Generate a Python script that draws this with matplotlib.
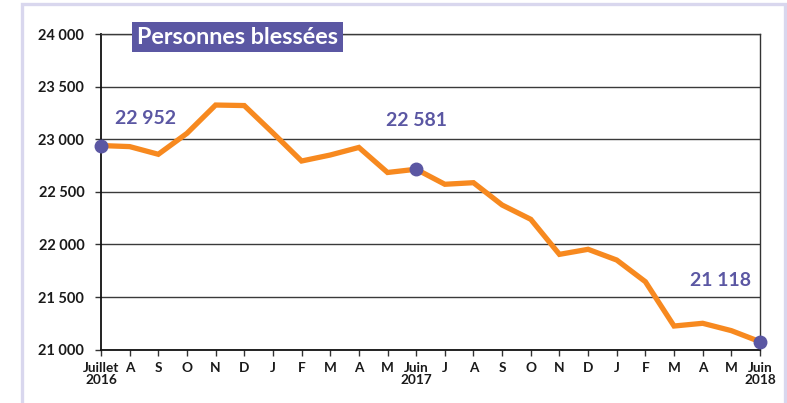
import matplotlib
matplotlib.use("Agg")
import matplotlib.pyplot as plt
from matplotlib.patches import Rectangle

months = ["Juillet\n2016", "A", "S", "O", "N", "D", "J", "F", "M", "A", "M", "Juin\n2017",
          "J", "A", "S", "O", "N", "D", "J", "F", "M", "A", "M", "Juin\n2018"]
values = [22940, 22930, 22857, 23056, 23325, 23320, 23060, 22793, 22850, 22922, 22684, 22715,
          22572, 22587, 22375, 22239, 21906, 21954, 21852, 21646, 21225, 21251, 21181, 21076]
highlight_idx = [0, 11, 23]
highlight_labels = ["22 952", "22 581", "21 118"]
yticks = [21000, 21500, 22000, 22500, 23000, 23500, 24000]
ytick_labels = ["21 000", "21 500", "22 000", "22 500", "23 000", "23 500", "24 000"]

plt.rcParams['font.family'] = ['Lato', 'DejaVu Sans']
ORANGE = "#f7891f"
PURPLE = "#5b57a3"

fig = plt.figure(figsize=(7.87, 4.03), dpi=100)
fig.patch.set_facecolor("white")
ax = fig.add_axes([101/787, 1-349.7/403, (760-101)/787, (349.7-34)/403])

x = list(range(len(values)))
ax.plot(x, values, color=ORANGE, lw=3.8, solid_joinstyle="miter", zorder=3, clip_on=False)
ax.plot([x[i] for i in highlight_idx], [values[i] for i in highlight_idx], "o",
        color=PURPLE, ms=9, zorder=4, clip_on=False)

ax.set_xlim(0, 23)
ax.set_ylim(21000, 24000)
ax.set_yticks(yticks)
ax.set_yticklabels(ytick_labels, fontsize=10.5, fontweight="bold", color="#1a1a1a")
ax.set_xticks(x)
ax.set_xticklabels(months, fontsize=9.8, fontweight="bold", color="#1a1a1a", linespacing=1.0)
ax.tick_params(axis="y", length=4, width=1, pad=8, color="#333333")
ax.tick_params(axis="x", length=4, width=1, pad=5, color="#333333")
ax.grid(axis="y", color="#3a3a3a", lw=1)
for s in ["left", "bottom"]:
    ax.spines[s].set_color("#111111")
    ax.spines[s].set_linewidth(1.3)
ax.spines["right"].set_color("#333333")
ax.spines["right"].set_linewidth(1)
ax.spines["top"].set_color("#3a3a3a")
ax.spines["top"].set_linewidth(1)

# Highlight labels
ax.text(0.5, 23200, highlight_labels[0], color=PURPLE, fontsize=14, fontweight="bold",
        ha="left", va="center")
ax.text(11, 23180, highlight_labels[1], color=PURPLE, fontsize=14, fontweight="bold",
        ha="center", va="center")
ax.text(22.7, 21662, highlight_labels[2], color=PURPLE, fontsize=14, fontweight="bold",
        ha="right", va="center")

# Title box
fig.text(237.5/787, 1-37/403, "Personnes blessées", color="white", fontsize=16.8,
         fontweight="bold", ha="center", va="center", zorder=10,
         bbox=dict(boxstyle="square,pad=0.2", fc=PURPLE, ec="none"))

# Outer lavender frame
fig.patches.append(Rectangle((21.5/787, -0.1), (785-21.5)/787, 1.1 - 4.5/403,
                             transform=fig.transFigure, fill=False,
                             ec="#d9d7ee", lw=2.4, zorder=0))

fig.savefig("out.png", dpi=100)
